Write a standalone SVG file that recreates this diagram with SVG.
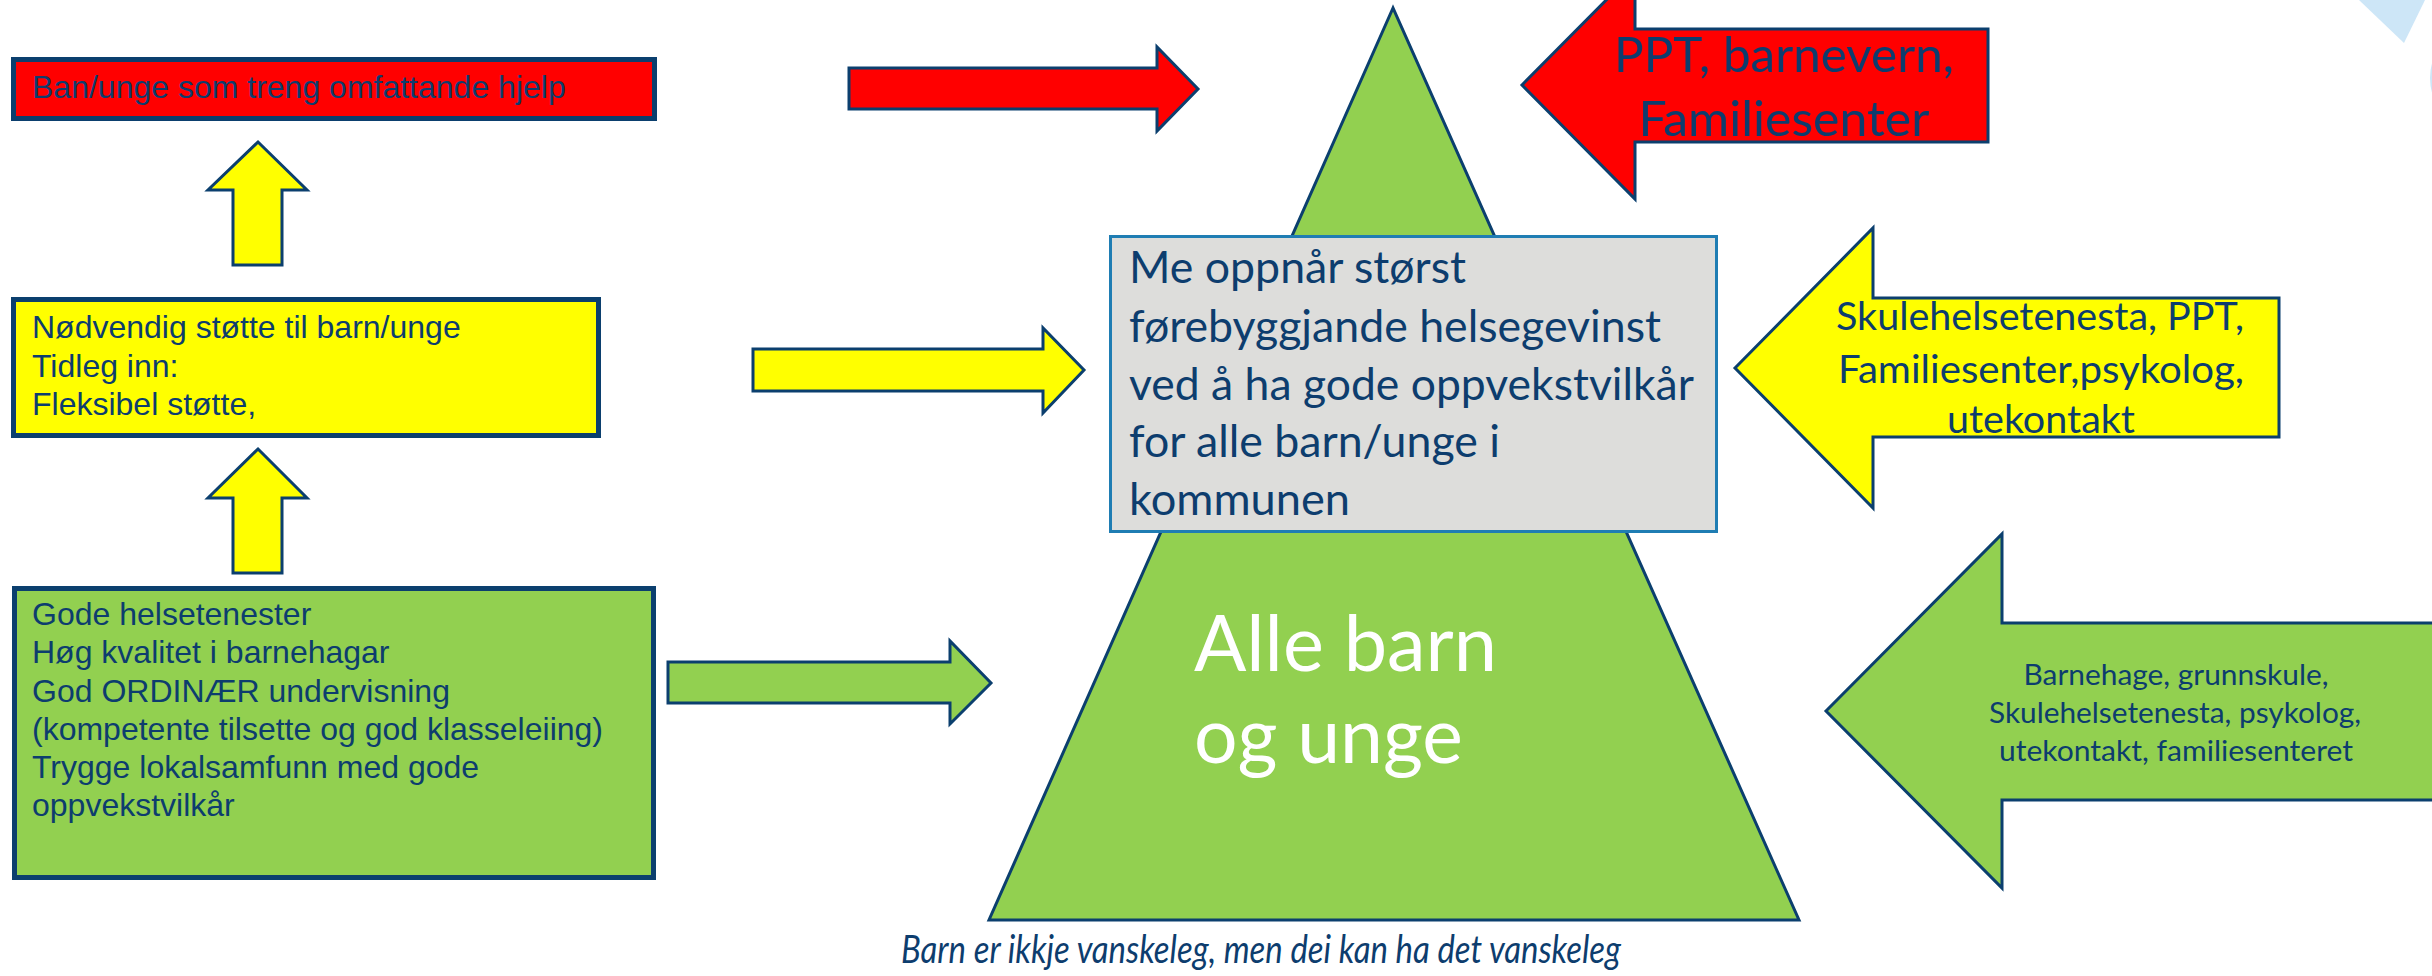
<svg xmlns="http://www.w3.org/2000/svg" width="2432" height="976" viewBox="0 0 2432 976">
<style>
.arial{font-family:"Liberation Sans",Arial,sans-serif;font-size:32px;fill:#0D3D6E}
.cal{font-family:Lato,"Open Sans",sans-serif;fill:#0D3D6E}
.box{stroke:#0B3F6E;stroke-width:5}
.arr{stroke:#0B3F6E;stroke-width:3}
.red{fill:#FF0000}.yel{fill:#FFFF00}.grn{fill:#92D050}
</style>
<rect width="2432" height="976" fill="#FFFFFF"/>
<g id="decor">
<polygon points="2359,0 2425,0 2404,43" fill="#CDE6F7"/>
<circle cx="2482" cy="78" r="51" fill="none" stroke="#CDE6F7" stroke-width="2"/>
</g>
<g id="node-triangle">
<polygon class="grn arr" points="1393,8 989,920 1799,920"/>
<text class="cal" font-size="77" style="fill:#FFFFFF"><tspan x="1194" y="671" textLength="303" lengthAdjust="spacingAndGlyphs">Alle barn</tspan><tspan x="1194" y="763" textLength="269" lengthAdjust="spacingAndGlyphs">og unge</tspan></text>
</g>
<g id="node-grey">
<rect x="1110.5" y="236.5" width="606" height="295" fill="#DDDDDB" stroke="#1F7DB3" stroke-width="3"/>
<text class="cal" font-size="44">
<tspan x="1129" y="283" textLength="337" lengthAdjust="spacingAndGlyphs">Me oppnår størst</tspan>
<tspan x="1129" y="342" textLength="532" lengthAdjust="spacingAndGlyphs">førebyggjande helsegevinst</tspan>
<tspan x="1129" y="400" textLength="564" lengthAdjust="spacingAndGlyphs">ved å ha gode oppvekstvilkår</tspan>
<tspan x="1129" y="457" textLength="371" lengthAdjust="spacingAndGlyphs">for alle barn/unge i</tspan>
<tspan x="1129" y="515" textLength="221" lengthAdjust="spacingAndGlyphs">kommunen</tspan>
</text>
</g>
<g id="node-red-box">
<rect class="red box" x="13.5" y="59.5" width="641" height="59"/>
<text class="arial" x="32" y="98">Ban/unge som treng omfattande hjelp</text>
</g>
<g id="node-yellow-box">
<rect class="yel box" x="13.5" y="299.5" width="585" height="136"/>
<text class="arial"><tspan x="32" y="338">Nødvendig støtte til barn/unge</tspan><tspan x="32" y="377">Tidleg inn:</tspan><tspan x="32" y="415">Fleksibel støtte,</tspan></text>
</g>
<g id="node-green-box">
<rect class="grn box" x="14.5" y="588.5" width="639" height="289"/>
<text class="arial"><tspan x="32" y="625">Gode helsetenester</tspan><tspan x="32" y="663">Høg kvalitet i barnehagar</tspan><tspan x="32" y="702">God ORDINÆR undervisning</tspan><tspan x="32" y="740">(kompetente tilsette og god klasseleiing)</tspan><tspan x="32" y="778">Trygge lokalsamfunn med gode</tspan><tspan x="32" y="816">oppvekstvilkår</tspan></text>
</g>
<g id="node-red-arrow">
<polygon class="red arr" points="1522,85 1635,-29 1635,29 1988,29 1988,142 1635,142 1635,199"/>
<text class="cal" font-size="49" text-anchor="middle"><tspan x="1784" y="72" textLength="340" lengthAdjust="spacingAndGlyphs">PPT, barnevern,</tspan><tspan x="1784" y="136" textLength="291" lengthAdjust="spacingAndGlyphs">Familiesenter</tspan></text>
</g>
<g id="node-yellow-arrow">
<polygon class="yel arr" points="1735,368 1873,228 1873,298 2279,298 2279,437 1873,437 1873,508"/>
<text class="cal" font-size="39" text-anchor="middle"><tspan x="2040" y="330" textLength="408" lengthAdjust="spacingAndGlyphs">Skulehelsetenesta, PPT,</tspan><tspan x="2041" y="383" textLength="406" lengthAdjust="spacingAndGlyphs">Familiesenter,psykolog,</tspan><tspan x="2041" y="433" textLength="188" lengthAdjust="spacingAndGlyphs">utekontakt</tspan></text>
</g>
<g id="node-green-arrow">
<polygon class="grn arr" points="1826,711 2002,534 2002,623 2445,623 2445,800 2002,800 2002,888"/>
<text class="cal" font-size="29.5" text-anchor="middle"><tspan x="2176" y="685" textLength="305" lengthAdjust="spacingAndGlyphs">Barnehage, grunnskule,</tspan><tspan x="2175" y="723" textLength="372" lengthAdjust="spacingAndGlyphs">Skulehelsetenesta, psykolog,</tspan><tspan x="2176" y="761" textLength="354" lengthAdjust="spacingAndGlyphs">utekontakt, familiesenteret</tspan></text>
</g>
<g id="connectors">
<polygon class="red arr" points="849,68 1157,68 1157,47 1198,89 1157,131 1157,109 849,109"/>
<polygon class="yel arr" points="753,349 1043,349 1043,328 1084,370 1043,413 1043,391 753,391"/>
<polygon class="grn arr" points="668,662 950,662 950,641 991,683 950,724 950,703 668,703"/>
<polygon class="yel arr" points="258,142 307,190 282,190 282,265 233,265 233,190 208,190"/>
<polygon class="yel arr" points="258,449 307,498 282,498 282,573 233,573 233,498 208,498"/>
</g>
<g id="caption">
<text class="cal" font-size="39" font-style="italic" x="901" y="963" textLength="720" lengthAdjust="spacingAndGlyphs">Barn er ikkje vanskeleg, men dei kan ha det vanskeleg</text>
</g>
</svg>
